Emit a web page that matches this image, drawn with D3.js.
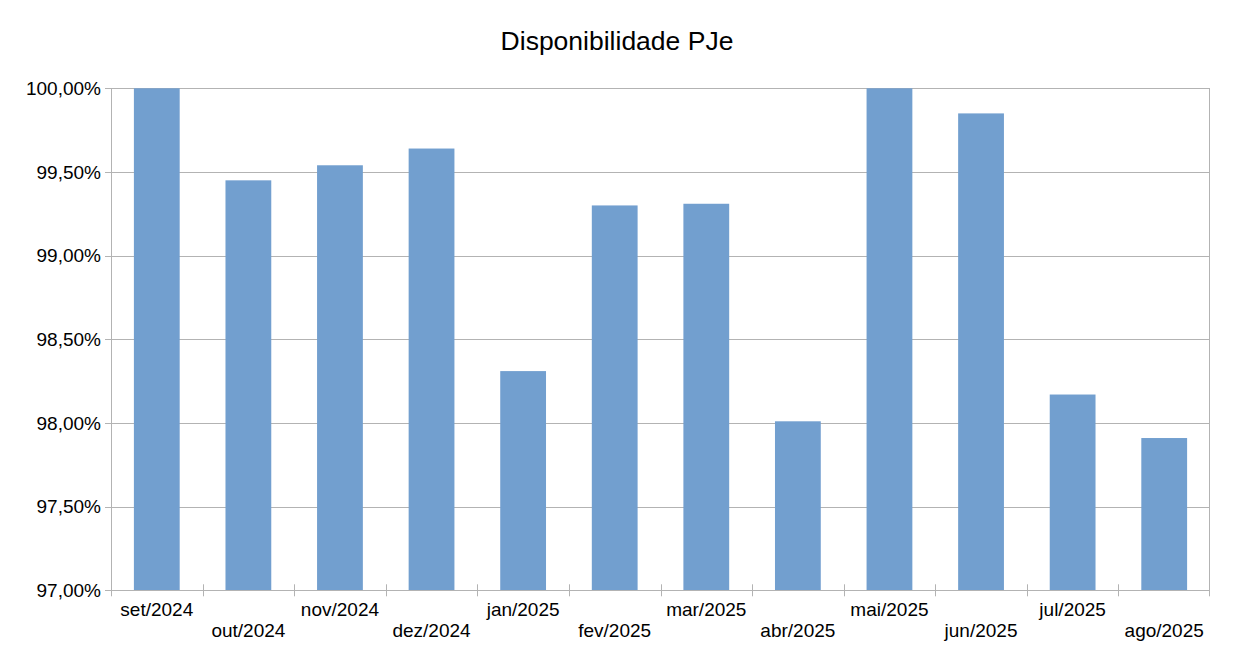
<!DOCTYPE html>
<html><head><meta charset="utf-8">
<script src="https://cdn.jsdelivr.net/npm/d3@7"></script>
<style>body{margin:0;background:#fff}</style>
</head><body>
<svg id="c" width="1235" height="655"></svg>
<script>
const categories = ["set/2024","out/2024","nov/2024","dez/2024","jan/2025","fev/2025","mar/2025","abr/2025","mai/2025","jun/2025","jul/2025","ago/2025"];
const values = [100.00, 99.45, 99.54, 99.64, 98.31, 99.30, 99.31, 98.01, 100.00, 99.85, 98.17, 97.91];
const yTicks = [97.0, 97.5, 98.0, 98.5, 99.0, 99.5, 100.0];
const title = "Disponibilidade PJe";

const svg = d3.select("#c");
const font = "'Liberation Sans', Arial, sans-serif";
const L = 111, R = 1210, T = 88.3, B = 590.3;
const grid = "#b3b3b3";

const x = d3.scaleBand().domain(categories).range([L, R]).paddingInner(0.5).paddingOuter(0.25);
const xb = d3.scaleBand().domain(categories).range([L, R]);
const y = d3.scaleLinear().domain([97, 100]).range([B, T]);

svg.append("text").attr("x", 617).attr("y", 49.5).attr("text-anchor", "middle")
  .attr("font-family", font).attr("font-size", 26.5).attr("fill", "#000").text(title);

// gridlines
svg.append("g").selectAll("line").data(yTicks).join("line")
  .attr("x1", L - 6).attr("x2", R).attr("y1", d => Math.round(y(d)) + 0.5).attr("y2", d => Math.round(y(d)) + 0.5)
  .attr("stroke", grid).attr("stroke-width", 1);

// y labels
const fmt = d => d.toFixed(2).replace(".", ",") + "%";
svg.append("g").selectAll("text").data(yTicks).join("text")
  .attr("x", 101).attr("y", d => y(d)).attr("dy", "0.36em").attr("text-anchor", "end")
  .attr("font-family", font).attr("font-size", 19).attr("fill", "#000").text(fmt);

// bars
svg.append("g").selectAll("rect").data(values).join("rect")
  .attr("x", (d, i) => x(categories[i])).attr("width", x.bandwidth())
  .attr("y", d => y(d)).attr("height", d => y(97) - y(d))
  .attr("fill", "#729fcf");

// axes lines
svg.append("line").attr("x1", L + 0.5).attr("x2", L + 0.5).attr("y1", T).attr("y2", B + 6).attr("stroke", grid);
svg.append("line").attr("x1", R - 0.5).attr("x2", R - 0.5).attr("y1", T).attr("y2", B + 6).attr("stroke", grid);
svg.append("line").attr("x1", L).attr("x2", R).attr("y1", Math.round(B) + 0.5).attr("y2", Math.round(B) + 0.5).attr("stroke", grid);

// x ticks at category boundaries
const bounds = categories.slice(1).map(c => xb(c));
svg.append("g").selectAll("line").data(bounds).join("line")
  .attr("x1", d => Math.round(d) + 0.5).attr("x2", d => Math.round(d) + 0.5)
  .attr("y1", B - 6).attr("y2", B + 6).attr("stroke", grid);

// x labels (staggered)
svg.append("g").selectAll("text").data(categories).join("text")
  .attr("x", d => xb(d) + xb.bandwidth() / 2)
  .attr("y", (d, i) => i % 2 === 0 ? 616 : 637)
  .attr("text-anchor", "middle").attr("font-family", font).attr("font-size", 19).attr("fill", "#000")
  .text(d => d);
</script>
</body></html>
